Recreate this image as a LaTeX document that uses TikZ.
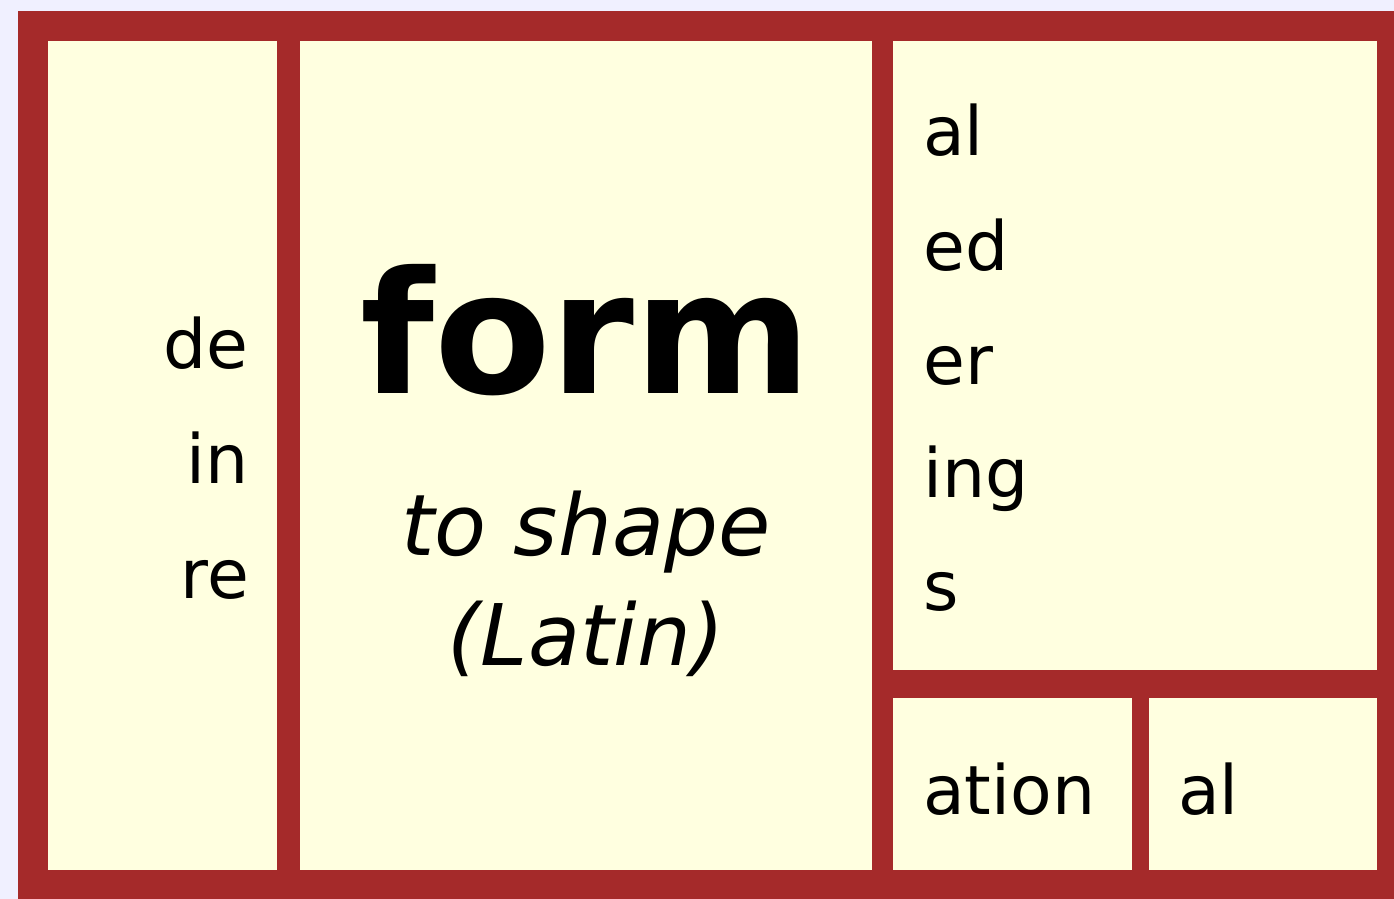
\documentclass[tikz,border=0pt]{standalone}
\usepackage{fontspec}
\setmainfont{DejaVu Sans}
\definecolor{bgl}{RGB}{240,240,255}
\definecolor{frame}{RGB}{165,42,42}
\definecolor{cream}{RGB}{255,255,224}
\begin{document}
\begin{tikzpicture}[x=1pt,y=-1pt,
  cell/.style={draw=none,fill=cream,rectangle,inner sep=0pt,anchor=north west},
  aff/.style={inner sep=0pt,font=\fontsize{68}{80}\selectfont},
  lft/.style={aff,anchor=base east},
  rgt/.style={aff,anchor=base west}]
\useasboundingbox (0,0) rectangle (1394,899);
\fill[bgl] (0,0) rectangle (1394,899);
\node[rectangle,fill=frame,inner sep=0pt,anchor=north west,minimum width=1376pt,minimum height=888pt] (outer) at (18,11) {};
\node[cell,minimum width=229pt,minimum height=829pt] (c1) at (48,41) {};
\node[cell,minimum width=572pt,minimum height=829pt] (c2) at (300,41) {};
\node[cell,minimum width=484pt,minimum height=629pt] (c3) at (893,41) {};
\node[cell,minimum width=239pt,minimum height=172pt] (c4) at (893,698) {};
\node[cell,minimum width=228pt,minimum height=172pt] (c5) at (1149,698) {};
% prefixes
\node[lft] (de) at (249,368) {de};
\node[lft] (in) at (249,483) {in};
\node[lft] (re) at (249,598) {re};
% root
\node[inner sep=0pt,anchor=base,font=\fontsize{170}{200}\selectfont\bfseries] (form) at (586,393) {form};
\node[inner sep=0pt,anchor=base,font=\fontsize{85}{100}\selectfont\itshape] (mean1) at (586,555) {to shape};
\node[inner sep=0pt,anchor=base,font=\fontsize{85}{100}\selectfont\itshape] (mean2) at (586,665) {(Latin)};
% suffixes
\node[rgt] (s1) at (923,155) {al};
\node[rgt] (s2) at (923,270) {ed};
\node[rgt] (s3) at (923,384) {er};
\node[rgt] (s4) at (923,497) {ing};
\node[rgt] (s5) at (923,610) {s};
\node[rgt] (s6) at (923,814) {ation};
\node[rgt] (s7) at (1178,814) {al};
\end{tikzpicture}
\end{document}
